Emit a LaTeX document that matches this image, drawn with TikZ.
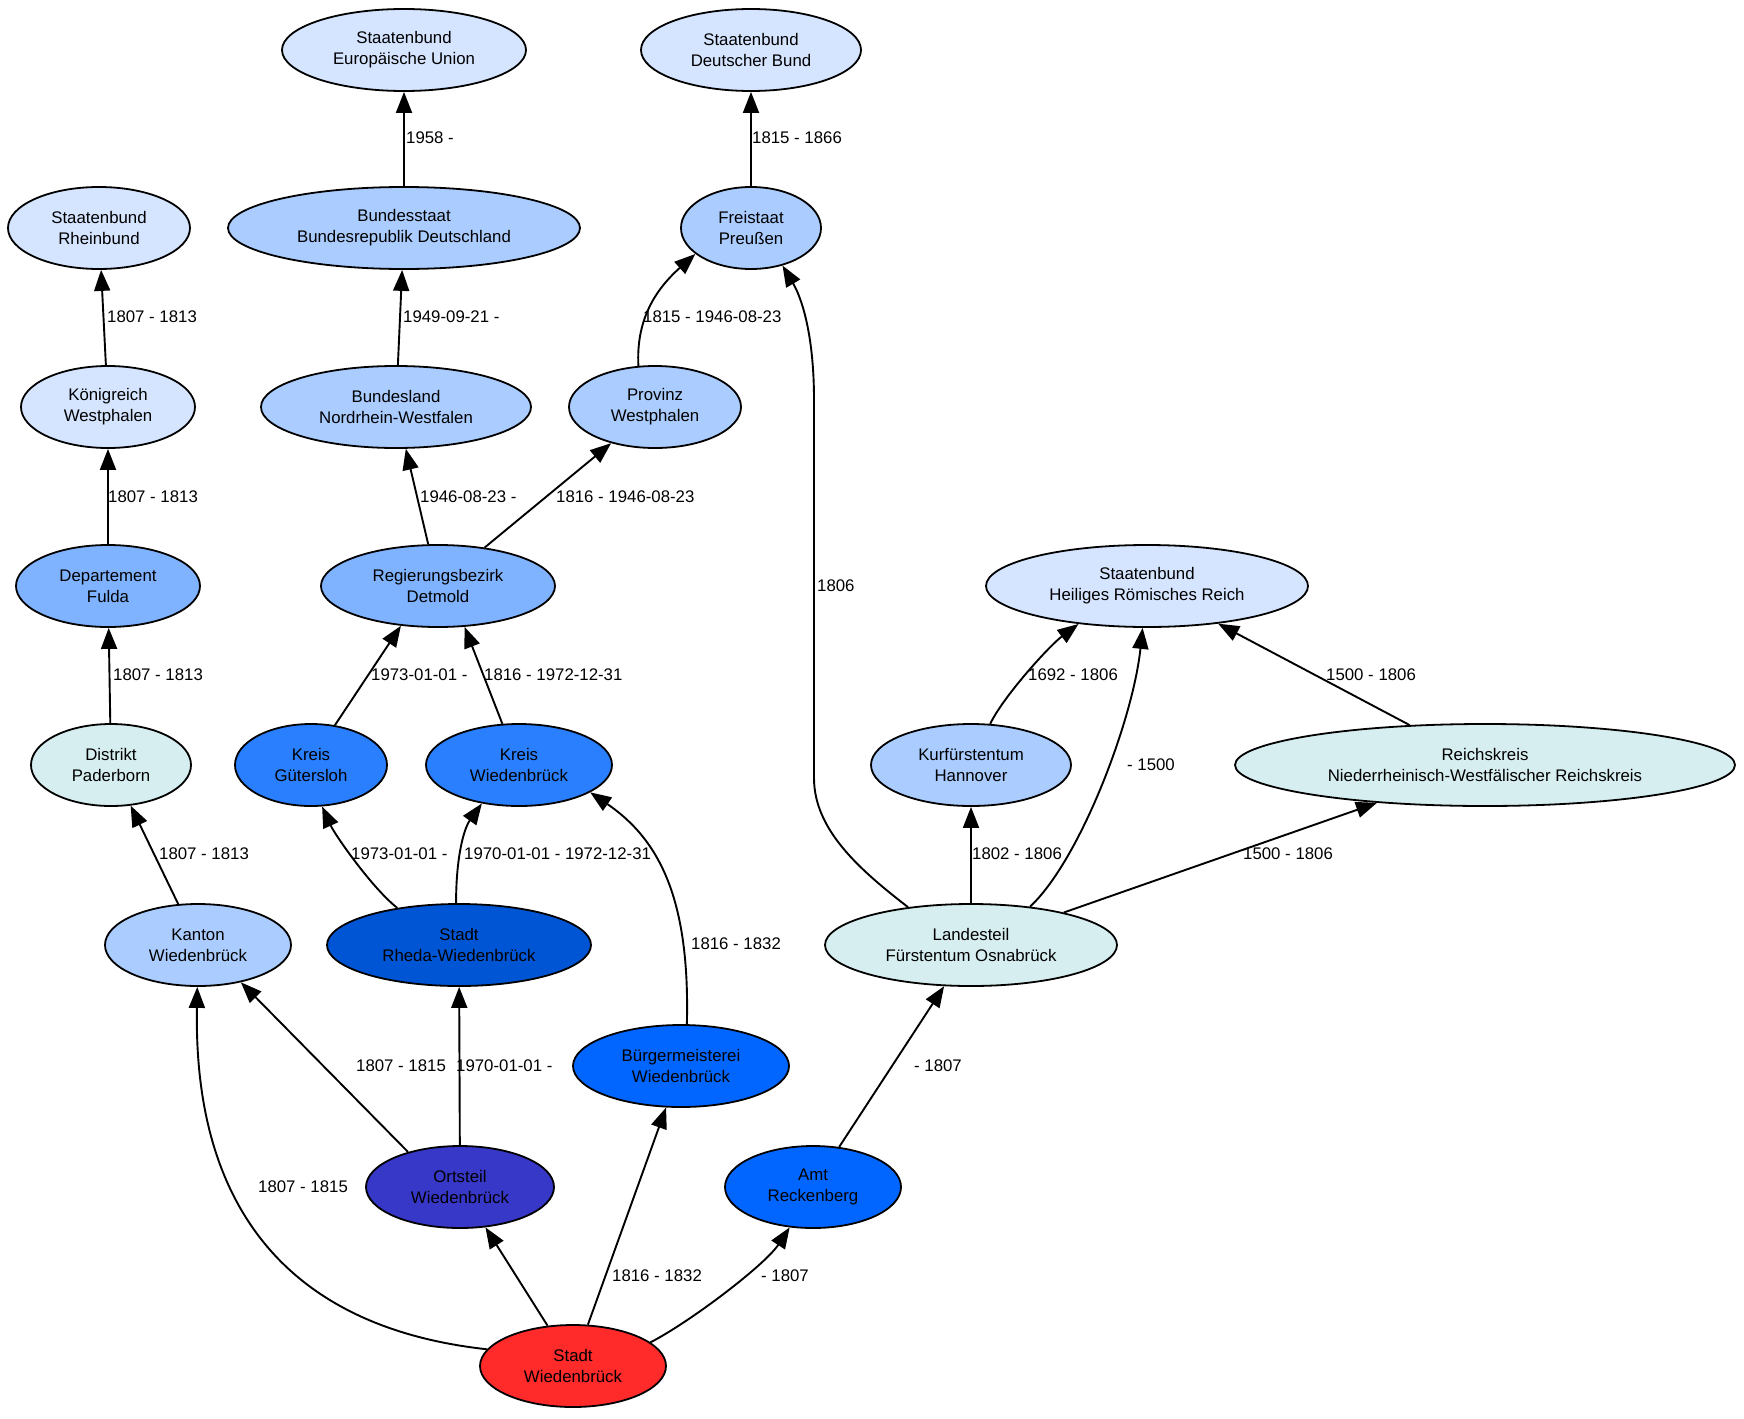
\documentclass[tikz,border=0pt]{standalone}
\usepackage{fontspec}
\setmainfont{Liberation Sans}
\usetikzlibrary{shapes.geometric,arrows.meta}
\definecolor{cA}{HTML}{D5E5FF}
\definecolor{cB}{HTML}{AACCFF}
\definecolor{cC}{HTML}{80B3FF}
\definecolor{cD}{HTML}{2A7FFF}
\definecolor{cE}{HTML}{0055D4}
\definecolor{cF}{HTML}{0066FF}
\definecolor{cG}{HTML}{3737C8}
\definecolor{cT}{HTML}{D7EEF0}
\definecolor{cR}{HTML}{FF2A2A}
\begin{document}
\begin{tikzpicture}[x=1pt,y=-1pt,
  font=\fontsize{16.8}{21}\selectfont,
  nd/.style={ellipse,draw=black,line width=1.8pt,inner sep=0pt,align=center,minimum height=82pt},
  e/.style={line width=1.9pt,-{Triangle[length=21pt,width=16pt]}},
  lbl/.style={anchor=west,inner sep=0pt}]
\useasboundingbox[fill=white] (0,0) rectangle (1744,1418);
% nodes
\node[nd,fill=cA,minimum width=244pt] (eu) at (404,50) {Staatenbund\\Europäische Union};
\node[nd,fill=cA,minimum width=220pt] (db) at (751,50) {Staatenbund\\Deutscher Bund};
\node[nd,fill=cA,minimum width=182pt] (rh) at (99,228) {Staatenbund\\Rheinbund};
\node[nd,fill=cB,minimum width=352pt] (brd) at (404,228) {Bundesstaat\\Bundesrepublik Deutschland};
\node[nd,fill=cB,minimum width=140pt] (pr) at (751,228) {Freistaat\\Preußen};
\node[nd,fill=cA,minimum width=174pt] (kw) at (108,407) {Königreich\\Westphalen};
\node[nd,fill=cB,minimum width=270pt] (nrw) at (396,407) {Bundesland\\Nordrhein-Westfalen};
\node[nd,fill=cB,minimum width=172pt] (pw) at (655,407) {Provinz\\Westphalen};
\node[nd,fill=cC,minimum width=184pt] (df) at (108,586) {Departement\\Fulda};
\node[nd,fill=cC,minimum width=234pt] (rb) at (438,586) {Regierungsbezirk\\Detmold};
\node[nd,fill=cA,minimum width=322pt] (hrr) at (1147,586) {Staatenbund\\Heiliges Römisches Reich};
\node[nd,fill=cT,minimum width=160pt] (dp) at (111,765) {Distrikt\\Paderborn};
\node[nd,fill=cD,minimum width=152pt] (kg) at (311,765) {Kreis\\Gütersloh};
\node[nd,fill=cD,minimum width=186pt] (kwb) at (519,765) {Kreis\\Wiedenbrück};
\node[nd,fill=cB,minimum width=200pt] (kh) at (971,765) {Kurfürstentum\\Hannover};
\node[nd,fill=cT,minimum width=500pt] (rk) at (1485,765) {Reichskreis\\Niederrheinisch-Westfälischer Reichskreis};
\node[nd,fill=cB,minimum width=186pt] (kt) at (198,945) {Kanton\\Wiedenbrück};
\node[nd,fill=cE,minimum width=264pt] (rw) at (459,945) {Stadt\\Rheda-Wiedenbrück};
\node[nd,fill=cT,minimum width=292pt] (ld) at (971,945) {Landesteil\\Fürstentum Osnabrück};
\node[nd,fill=cF,minimum width=216pt] (bm) at (681,1066) {Bürgermeisterei\\Wiedenbrück};
\node[nd,fill=cG,minimum width=188pt] (ot) at (460,1187) {Ortsteil\\Wiedenbrück};
\node[nd,fill=cF,minimum width=176pt] (am) at (813,1187) {Amt\\Reckenberg};
\node[nd,fill=cR,minimum width=186pt] (sw) at (573,1366) {Stadt\\Wiedenbrück};
% edges
\draw[e] (brd) -- (eu);
\draw[e] (pr) -- (db);
\draw[e] (kw) -- (rh);
\draw[e] (nrw) -- (brd);
\draw[e] (pw.112) .. controls (636,320) and (655,290) .. (pr.-155);
\draw[e] (ld.149) .. controls (860,870) and (814,830) .. (814,778) -- (814,400) .. controls (814,330) and (800,295) .. (pr.-50);
\draw[e] (df) -- (kw);
\draw[e] (rb) -- (nrw);
\draw[e] (rb) -- (pw);
\draw[e] (dp) -- (df);
\draw[e] (kg.59) -- (rb.-133);
\draw[e] (kwb.112) -- (rb.-57);
\draw[e] (kh.65) .. controls (1003,697) and (1049,646) .. (hrr.-151);
\draw[e] (ld.33) .. controls (1080,860) and (1133,720) .. (hrr.-96);
\draw[e] (rk) -- (hrr);
\draw[e] (kt) -- (dp);
\draw[e] (rw.149) .. controls (372,888) and (335,835) .. (kg.-75);
\draw[e] (rw.94) .. controls (456,860) and (463,830) .. (kwb.-134);
\draw[e] (bm.82) .. controls (690,900) and (660,840) .. (kwb.-21);
\draw[e] (ld) -- (kh);
\draw[e] (ld) -- (rk);
\draw[e] (ot.146) -- (kt.-41);
\draw[e] (ot) -- (rw);
\draw[e] (am) -- (ld);
\draw[e] (sw.169) .. controls (220,1320) and (195,1120) .. (kt.-91);
\draw[e] (sw) -- (ot);
\draw[e] (sw) -- (bm);
\draw[e] (sw.17) .. controls (690,1322) and (765,1265) .. (am.-120);
% labels
\node[lbl] (l1) at (406,138) {1958 -};
\node[lbl] (l2) at (752,138) {1815 - 1866};
\node[lbl] (l3) at (107,317) {1807 - 1813};
\node[lbl] (l4) at (403,317) {1949-09-21 -};
\node[lbl] (l5) at (643,317) {1815 - 1946-08-23};
\node[lbl] (l6) at (817,586) {1806};
\node[lbl] (l7) at (108,497) {1807 - 1813};
\node[lbl] (l8) at (420,497) {1946-08-23 -};
\node[lbl] (l9) at (556,497) {1816 - 1946-08-23};
\node[lbl] (l10) at (113,675) {1807 - 1813};
\node[lbl] (l11) at (371,675) {1973-01-01 -};
\node[lbl] (l12) at (484,675) {1816 - 1972-12-31};
\node[lbl] (l13) at (1028,675) {1692 - 1806};
\node[lbl] (l14) at (1127,765) {- 1500};
\node[lbl] (l15) at (1326,675) {1500 - 1806};
\node[lbl] (l16) at (159,854) {1807 - 1813};
\node[lbl] (l17) at (351,854) {1973-01-01 -};
\node[lbl] (l18) at (464,854) {1970-01-01 - 1972-12-31};
\node[lbl] (l19) at (691,944) {1816 - 1832};
\node[lbl] (l20) at (972,854) {1802 - 1806};
\node[lbl] (l21) at (1243,854) {1500 - 1806};
\node[lbl] (l22) at (356,1066) {1807 - 1815};
\node[lbl] (l23) at (456,1066) {1970-01-01 -};
\node[lbl] (l24) at (914,1066) {- 1807};
\node[lbl] (l25) at (258,1187) {1807 - 1815};
\node[lbl] (l27) at (612,1276) {1816 - 1832};
\node[lbl] (l28) at (761,1276) {- 1807};
\end{tikzpicture}
\end{document}
